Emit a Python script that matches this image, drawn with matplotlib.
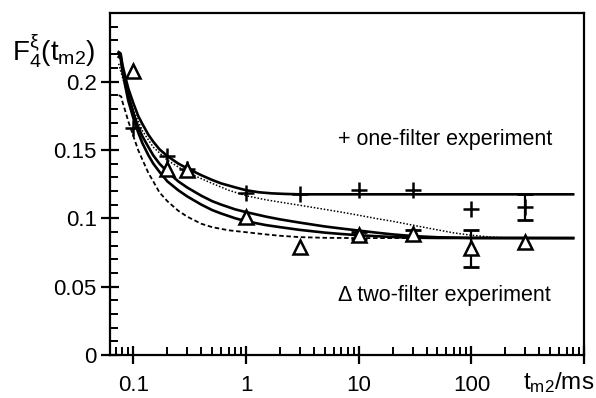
import matplotlib
matplotlib.use("Agg")
import matplotlib.pyplot as plt
from matplotlib.ticker import FixedLocator, LogLocator, MultipleLocator, NullFormatter

plt.rcParams['font.family'] = ['Liberation Sans', 'DejaVu Sans']
plt.rcParams['mathtext.fontset'] = 'custom'
plt.rcParams['mathtext.rm'] = 'Liberation Sans'
plt.rcParams['mathtext.it'] = 'Liberation Sans'
plt.rcParams['mathtext.bf'] = 'Liberation Sans:bold'

# measured points
t_one = [0.1, 0.2, 0.3, 1, 3, 10, 30, 100, 300]
f_one = [0.1662, 0.1455, 0.136, 0.1185, 0.118, 0.121, 0.121, 0.107, 0.1085]
err_one_x = [300]
err_one_y = [0.1085]
err_one = [0.0095]

t_two = [0.1, 0.2, 0.3, 1, 3, 10, 30, 100, 300]
f_two = [0.208, 0.136, 0.135, 0.101, 0.079, 0.0876, 0.0888, 0.0779, 0.0827]
err_two_x = [10, 30, 100]
err_two_y = [0.0876, 0.0888, 0.0779]
err_two = [0.0025, 0.0025, 0.0137]

# fitted curves
fit1_t = [0.074, 0.077, 0.08, 0.085, 0.09, 0.1, 0.11, 0.12, 0.136, 0.15, 0.17, 0.2, 0.25,
          0.3, 0.4, 0.5, 0.6, 0.8, 1, 1.3, 1.7, 2.2, 3, 800]
fit1_f = [0.2215, 0.2205, 0.212, 0.203, 0.195, 0.184, 0.175, 0.169, 0.161, 0.156, 0.1505,
          0.1455, 0.140, 0.1365, 0.1315, 0.128, 0.1255, 0.1226, 0.1205, 0.119, 0.1182,
          0.1178, 0.1175, 0.1175]

fit2_t = [0.074, 0.077, 0.08, 0.085, 0.09, 0.1, 0.11, 0.12, 0.136, 0.15, 0.17, 0.2, 0.25,
          0.3, 0.4, 0.5, 0.6, 0.8, 1, 1.5, 2, 3, 5, 7, 10, 15, 20, 30, 50, 100, 800]
fit2_f = [0.220, 0.219, 0.210, 0.199, 0.190, 0.177, 0.167, 0.160, 0.152, 0.146, 0.140,
          0.134, 0.127, 0.1225, 0.1165, 0.1125, 0.110, 0.1065, 0.1045, 0.1012, 0.0992,
          0.0968, 0.094, 0.0925, 0.091, 0.0893, 0.0882, 0.087, 0.0861, 0.0856, 0.0855]

fit3_t = [0.074, 0.077, 0.08, 0.085, 0.09, 0.1, 0.11, 0.12, 0.136, 0.15, 0.17, 0.2, 0.25,
          0.3, 0.4, 0.5, 0.6, 0.8, 1, 1.5, 2, 3, 5, 7, 10, 15, 20, 30, 50, 800]
fit3_f = [0.218, 0.217, 0.207, 0.196, 0.186, 0.173, 0.163, 0.155, 0.146, 0.140, 0.134,
          0.127, 0.1205, 0.116, 0.110, 0.106, 0.1035, 0.100, 0.0978, 0.095, 0.0935,
          0.0915, 0.0895, 0.0885, 0.0876, 0.0868, 0.0863, 0.0858, 0.0856, 0.0855]

dot_t = [0.074, 0.08, 0.09, 0.1, 0.12, 0.15, 0.2, 0.3, 0.5, 0.7, 1, 1.5, 2, 3, 5, 7, 10,
         15, 20, 30, 50, 70, 100, 150, 200]
dot_f = [0.213, 0.203, 0.190, 0.179, 0.164, 0.152, 0.1425, 0.1335, 0.1255, 0.1205, 0.1165,
         0.1135, 0.1118, 0.1095, 0.1065, 0.1045, 0.1022, 0.0995, 0.0978, 0.095, 0.0915,
         0.0893, 0.0876, 0.0862, 0.0856]

dash_t = [0.074, 0.078, 0.08, 0.085, 0.09, 0.1, 0.11, 0.12, 0.136, 0.15, 0.17, 0.2, 0.25,
          0.3, 0.4, 0.5, 0.7, 1, 1.5, 2, 3, 5, 10, 800]
dash_f = [0.190, 0.189, 0.185, 0.178, 0.171, 0.160, 0.150, 0.143, 0.133, 0.127, 0.119,
          0.1125, 0.1055, 0.1012, 0.096, 0.0935, 0.0912, 0.0898, 0.0882, 0.0872, 0.0862,
          0.0857, 0.0855, 0.0855]

xticks = [0.1, 1, 10, 100, 1000]
xticklabels = ["0.1", "1", "10", "100", ""]
yticks = [0, 0.05, 0.1, 0.15, 0.2]
yticklabels = ["0", "0.05", "0.1", "0.15", "0.2"]

fig = plt.figure(figsize=(5.96, 3.98), dpi=100)
ax = fig.add_axes([0.1846, 0.108, 0.7954, 0.859])

lw = 1.9
ax.plot(fit1_t, fit1_f, color="black", lw=lw, zorder=2)
ax.plot(fit2_t, fit2_f, color="black", lw=lw, zorder=2)
ax.plot(fit3_t, fit3_f, color="black", lw=lw, zorder=2)
ax.plot(dot_t, dot_f, color="black", lw=1.1, ls=(0, (1, 1.2)), zorder=2)
ax.plot(dash_t, dash_f, color="black", lw=1.3, ls=(0, (2.5, 1.5)), zorder=2)

ax.errorbar(err_one_x, err_one_y, yerr=err_one, fmt="none", ecolor="black",
            elinewidth=1.6, capsize=6, capthick=2, zorder=3)
ax.errorbar(err_two_x, err_two_y, yerr=err_two, fmt="none", ecolor="black",
            elinewidth=1.6, capsize=6, capthick=2, zorder=3)
ax.plot(t_one, f_one, ls="none", marker="+", ms=11, mew=1.8, color="black", zorder=4)
ax.plot(t_two, f_two, ls="none", marker="^", ms=10, mew=1.8, mfc="white", mec="black",
        zorder=4)

ax.set_xscale("log")
ax.set_xlim(0.062, 1000)
ax.set_ylim(0, 0.25)

ax.xaxis.set_major_locator(FixedLocator(xticks))
ax.set_xticklabels(xticklabels)
ax.xaxis.set_minor_locator(LogLocator(base=10, subs=range(2, 10), numticks=20))
ax.xaxis.set_minor_formatter(NullFormatter())
ax.yaxis.set_major_locator(FixedLocator(yticks))
ax.set_yticklabels(yticklabels)
ax.yaxis.set_minor_locator(MultipleLocator(0.01))

ax.tick_params(which="major", direction="inout", length=13, width=1.6, labelsize=16,
               pad=3, top=False, right=False)
ax.tick_params(which="minor", direction="in", length=6, width=1.4, top=False, right=False)
ax.tick_params(axis="x", which="major", pad=8)
for s in ax.spines.values():
    s.set_linewidth(1.6)

ax.text(0.481, 0.629, "+ one-filter experiment", transform=ax.transAxes, fontsize=15.5,
        ha="left", va="center")
ax.text(0.481, 0.175, "\u0394 two-filter experiment", transform=ax.transAxes, fontsize=15.5,
        ha="left", va="center")

fig.text(0.09, 0.872, r"$\mathregular{F_4^{\xi}(t_{m2})}$", fontsize=20, ha="center",
         va="center")
fig.text(0.998, 0.038, r"t$_{\mathregular{m2}}$/ms", fontsize=17.5, ha="right", va="center")

fig.savefig("out.png", dpi=100, facecolor="white")
